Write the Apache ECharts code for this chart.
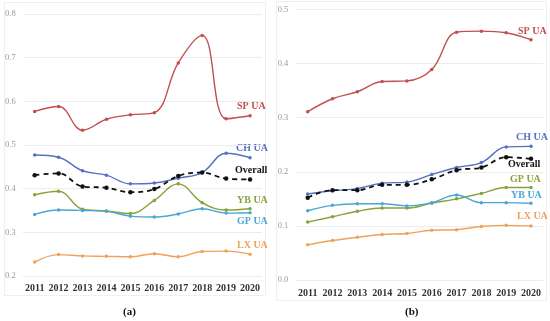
<!DOCTYPE html>
<html><head><meta charset="utf-8">
<script src="https://cdn.jsdelivr.net/npm/echarts@6/dist/echarts.min.js"></script>
<style>html,body{margin:0;padding:0;background:#fff}#c{width:550px;height:321px}</style>
</head><body><div id="c"></div>
<script>
var years = ['2011','2012','2013','2014','2015','2016','2017','2018','2019','2020'];
// Panel (a)
var aSP = [0.577,0.588,0.534,0.559,0.569,0.574,0.688,0.751,0.560,0.567];
var aCH = [0.477,0.472,0.441,0.431,0.411,0.413,0.424,0.437,0.481,0.471];
var aOverall = [0.431,0.435,0.405,0.402,0.392,0.399,0.429,0.437,0.423,0.421];
var aYB = [0.386,0.394,0.353,0.349,0.343,0.373,0.411,0.368,0.351,0.354];
var aGP = [0.341,0.351,0.350,0.348,0.337,0.335,0.342,0.354,0.344,0.345];
var aLX = [0.232,0.249,0.246,0.245,0.244,0.251,0.244,0.256,0.257,0.250];
// Panel (b)
var bSP = [0.311,0.335,0.348,0.367,0.368,0.389,0.458,0.460,0.457,0.444];
var bCH = [0.159,0.165,0.169,0.179,0.181,0.195,0.208,0.217,0.246,0.247];
var bOverall = [0.152,0.166,0.166,0.176,0.176,0.186,0.203,0.208,0.227,0.224];
var bGP = [0.107,0.117,0.127,0.133,0.133,0.142,0.150,0.160,0.171,0.171];
var bYB = [0.128,0.138,0.141,0.141,0.137,0.143,0.157,0.143,0.143,0.142];
var bLX = [0.065,0.073,0.079,0.084,0.086,0.092,0.093,0.099,0.101,0.100];
var aTicks = {min:0.2, max:0.8, interval:0.1};
var bTicks = {min:0.0, max:0.5, interval:0.1};

var C = {sp:'#C0504D', ch:'#5470C0', ov:'#111111', green:'#86A33A', lblue:'#4BA6D6', orange:'#EFA25C'};
var FONT = '"Liberation Serif","DejaVu Serif",serif';

function line(name, data, color, idx, dashed){
  return {name:name, type:'line', xAxisIndex:idx, yAxisIndex:idx, data:data, smooth:0.4,
    symbol:'circle', symbolSize: dashed?4.5:3.5,
    lineStyle:{color:color, width: dashed?1.8:1.4, type: dashed?[5,4]:'solid'},
    itemStyle:{color:color}, z: dashed?5:3};
}
function xAx(idx, margin){
  return {type:'category', gridIndex:idx, data:years, boundaryGap:true,
    axisLine:{show:false}, axisTick:{show:false},
    axisLabel:{interval:0, fontFamily:FONT, fontWeight:'bold', fontSize:10, color:'#333', margin:margin}};
}
function yAx(idx, t){
  return {type:'value', gridIndex:idx, min:t.min, max:t.max, interval:t.interval,
    axisLine:{show:false}, axisTick:{show:false},
    splitLine:{lineStyle:{color:'#ececec', width:1}},
    axisLabel:{fontFamily:FONT, fontSize:8.5, color:'#9a9a9a', margin:7,
      formatter:function(v){return v.toFixed(1);}}};
}
function lab(text, x, y, color){
  return {type:'text', left:x, top:y-6, style:{text:text, fill:color, font:'bold 10px '+FONT}};
}

var chart = echarts.init(document.getElementById('c'), null, {renderer:'canvas'});
chart.setOption({
  animation:false,
  backgroundColor:'#fff',
  grid:[
    {left:22.7, top:14, width:239.3, height:262},
    {left:295.3, top:9.5, width:248.1, height:270.5}
  ],
  xAxis:[xAx(0,7), xAx(1,8)],
  yAxis:[yAx(0,aTicks), yAx(1,bTicks)],
  series:[
    line('SP UA', aSP, C.sp, 0),
    line('CH UA', aCH, C.ch, 0),
    line('Overall', aOverall, C.ov, 0, true),
    line('YB UA', aYB, C.green, 0),
    line('GP UA', aGP, C.lblue, 0),
    line('LX UA', aLX, C.orange, 0),
    line('SP UA', bSP, C.sp, 1),
    line('CH UA', bCH, C.ch, 1),
    line('Overall', bOverall, C.ov, 1, true),
    line('GP UA', bGP, C.green, 1),
    line('YB UA', bYB, C.lblue, 1),
    line('LX UA', bLX, C.orange, 1)
  ],
  graphic:[
    {type:'rect', shape:{x:4.5, y:2.5, width:261, height:293}, style:{fill:'none', stroke:'#efefef', lineWidth:1}, silent:true},
    {type:'rect', shape:{x:276.5, y:1.5, width:270, height:299}, style:{fill:'none', stroke:'#efefef', lineWidth:1}, silent:true},
    lab('SP UA', 237, 107, C.sp),
    lab('CH UA', 236, 149, C.ch),
    lab('Overall', 235, 171, '#111'),
    lab('YB UA', 237, 201, C.green),
    lab('GP UA', 237, 222, C.lblue),
    lab('LX UA', 237, 246, C.orange),
    lab('SP UA', 518, 32, C.sp),
    lab('CH UA', 516, 138, C.ch),
    lab('Overall', 508, 165, '#111'),
    lab('GP UA', 510, 180, C.green),
    lab('YB UA', 511, 196, C.lblue),
    lab('LX UA', 517, 217, C.orange),
    {type:'text', left:123, top:307, style:{text:'(a)', fill:'#111', font:'bold 11px '+FONT}},
    {type:'text', left:405, top:307, style:{text:'(b)', fill:'#111', font:'bold 11px '+FONT}}
  ]
});
</script>
</body></html>
